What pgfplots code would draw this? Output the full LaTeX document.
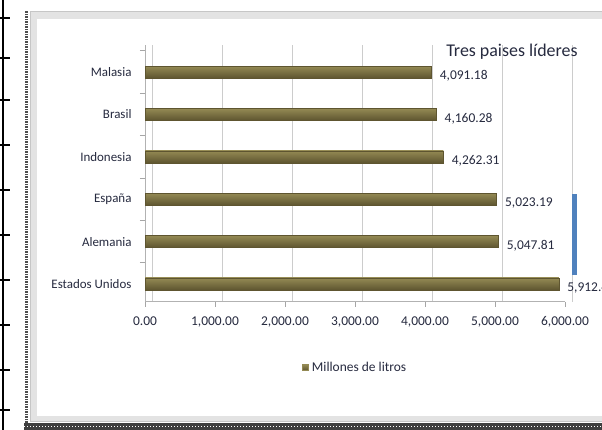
\documentclass[border=0pt]{standalone}
\usepackage{pgfplots}
\pgfplotsset{compat=1.18}
\usepackage{fontspec}
\setmainfont{Carlito}

\definecolor{oliva}{HTML}{948A54}
\definecolor{olivaclara}{HTML}{C2B98C}
\definecolor{olivaoscura}{HTML}{5E5530}
\definecolor{texto}{HTML}{262A3F}
\definecolor{azul}{HTML}{4F81BD}

\tikzset{barra/.style={draw=olivaoscura, top color=oliva, middle color=olivaclara,
    bottom color=olivaoscura}}

\begin{document}
\begin{tikzpicture}
\path[use as bounding box] (0bp,0bp) rectangle (602bp,430bp);
% marco de la captura
\fill[white] (0bp,0bp) rectangle (602bp,430bp);
\fill[gray!22] (30bp,9bp) rectangle (610bp,419bp);
\fill[white] (37bp,14bp) rectangle (610bp,411bp);
\draw[gray!45] (30bp,9bp) rectangle (610bp,419bp);
\fill[black!75] (24bp,0bp) rectangle (602bp,7bp);
\draw[white, line width=1bp, dash pattern=on 1bp off 2bp] (24bp,3.5bp) -- (602bp,3.5bp);
\draw[black!70, line width=3bp, dash pattern=on 1.5bp off 1bp] (26bp,7bp) -- (26bp,419bp);
\draw[black, line width=2.5bp] (3bp,0bp) -- (3bp,430bp);
\foreach \yy in {20,60,105,150,195,240,285,330,372,412}
  \draw[black, line width=1.5bp] (0bp,\yy bp) -- (10bp,\yy bp);

\begin{axis}[
    at={(145bp,128bp)}, anchor=south west,
    scale only axis,
    width=420bp, height=257bp,
    xbar, bar width=12bp, bar shift=0pt,
    xmin=0, xmax=6000,
    ymin=-0.425, ymax=5.637,
    xtick={0,1000,...,6000},
    scaled x ticks=false,
    /pgf/number format/assume math mode=true,
    /pgf/number format/.cd, fixed, fixed zerofill, precision=2, 1000 sep={,},
    /pgfplots/.cd,
    ytick={0.5,1.5,...,5.5},
    yticklabels={},
    extra y ticks={0,1,2,3,4,5},
    extra y tick labels={Estados Unidos, Alemania, España, Indonesia, Brasil, Malasia},
    extra y tick style={major tick length=0pt},
    tick align=outside,
    major tick length=5bp,
    tick style={gray!70, line width=0.8bp},
    axis x line*=bottom, axis y line*=left,
    axis line style={gray!60, line width=1bp, -},
    xmajorgrids,
    grid style={gray!40, line width=0.8bp, xshift=7bp},
    x tick label style={font=\fontsize{13.5}{15}\selectfont, text=texto, yshift=-6bp},
    y tick label style={font=\fontsize{13}{15}\selectfont, text=texto, xshift=-10bp},
    nodes near coords,
    every node near coord/.append style={anchor=west, xshift=5bp, yshift=-4bp,
        font=\fontsize{13.5}{15}\selectfont, text=texto},
    legend style={at={(0.5,-0.255)}, anchor=center, draw=none, fill=none,
        font=\fontsize{13.5}{15}\selectfont, text=texto},
    legend image code/.code={\fill[oliva] (0bp,-3bp) rectangle (6bp,3bp);
        \path[draw=none, fill=none, shading=none] (8bp,0bp) circle (0pt);},
]
\addplot[barra] coordinates {(5912.40,0)};
\addlegendentry{Millones de litros}
\addplot[barra, forget plot] coordinates {(5047.81,1)};
\addplot[barra, forget plot] coordinates {(5023.19,2)};
\addplot[barra, forget plot] coordinates {(4262.31,3)};
\addplot[barra, forget plot] coordinates {(4160.28,4)};
\addplot[barra, forget plot] coordinates {(4091.18,5)};
\end{axis}

% texto y barra añadidos en la gráfica original
\node[anchor=center, text=texto, font=\fontsize{18}{20}\selectfont] at (512bp,378bp) {Tres paises líderes};
\fill[azul] (572bp,155bp) rectangle (577bp,236bp);
\end{tikzpicture}
\end{document}
